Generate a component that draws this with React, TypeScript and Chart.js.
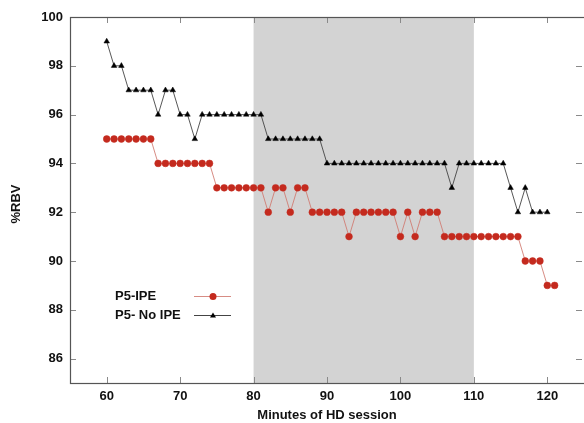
import React, { useEffect, useRef } from "react";
import { Chart, registerables } from "chart.js";

Chart.register(...registerables);

// ---- data ----
const minutesIPE = [
  60, 61, 62, 63, 64, 65, 66, 67, 68, 69, 70, 71, 72, 73, 74, 75, 76, 77, 78, 79, 80,
  81, 82, 83, 84, 85, 86, 87, 88, 89, 90, 91, 92, 93, 94, 95, 96, 97, 98, 99, 100,
  101, 102, 103, 104, 105, 106, 107, 108, 109, 110, 111, 112, 113, 114, 115, 116, 117, 118, 119, 120, 121,
];
const rbvIPE = [
  95, 95, 95, 95, 95, 95, 95, 94, 94, 94, 94, 94, 94, 94, 94, 93, 93, 93, 93, 93, 93,
  93, 92, 93, 93, 92, 93, 93, 92, 92, 92, 92, 92, 91, 92, 92, 92, 92, 92, 92, 91,
  92, 91, 92, 92, 92, 91, 91, 91, 91, 91, 91, 91, 91, 91, 91, 91, 90, 90, 90, 89, 89,
];
const minutesNoIPE = [
  60, 61, 62, 63, 64, 65, 66, 67, 68, 69, 70, 71, 72, 73, 74, 75, 76, 77, 78, 79, 80,
  81, 82, 83, 84, 85, 86, 87, 88, 89, 90, 91, 92, 93, 94, 95, 96, 97, 98, 99, 100,
  101, 102, 103, 104, 105, 106, 107, 108, 109, 110, 111, 112, 113, 114, 115, 116, 117, 118, 119, 120,
];
const rbvNoIPE = [
  99, 98, 98, 97, 97, 97, 97, 96, 97, 97, 96, 96, 95, 96, 96, 96, 96, 96, 96, 96, 96,
  96, 95, 95, 95, 95, 95, 95, 95, 95, 94, 94, 94, 94, 94, 94, 94, 94, 94, 94, 94,
  94, 94, 94, 94, 94, 94, 93, 94, 94, 94, 94, 94, 94, 94, 93, 92, 93, 92, 92, 92,
];
const xTicks = [60, 70, 80, 90, 100, 110, 120];
const yTicks = [86, 88, 90, 92, 94, 96, 98, 100];
const xRange = [55, 125];
const yRange = [85, 100];
const shadeRange = [80, 110];
const seriesNames = ["P5-IPE", "P5- No IPE"];
const xTitle = "Minutes of HD session";
const yTitle = "%RBV";

// ---- styles ----
const RED = "#c42a1e";
const RED_LINE = "rgba(208,120,110,0.85)";
const BLACK = "#000000";
const BLACK_LINE = "#444444";
const FONT = '"Liberation Sans", Arial, Helvetica, sans-serif';

const framePlugin = {
  id: "frame",
  beforeDatasetsDraw(chart: any) {
    const { ctx, chartArea } = chart;
    const xs = chart.scales.x;
    const x0 = xs.getPixelForValue(shadeRange[0]);
    const x1 = xs.getPixelForValue(shadeRange[1]);
    ctx.save();
    ctx.fillStyle = "#d3d3d3";
    ctx.fillRect(x0, chartArea.top, x1 - x0, chartArea.bottom - chartArea.top);
    ctx.restore();
  },
  afterDatasetsDraw(chart: any) {
    const { ctx, chartArea } = chart;
    const { left, right, top, bottom } = chartArea;
    const xs = chart.scales.x;
    const ys = chart.scales.y;
    const tl = 6;
    ctx.save();
    ctx.strokeStyle = "#8a8a8a";
    ctx.lineWidth = 1;
    ctx.beginPath();
    xTicks.forEach((v) => {
      const px = Math.round(xs.getPixelForValue(v)) + 0.5;
      ctx.moveTo(px, bottom);
      ctx.lineTo(px, bottom - tl);
      ctx.moveTo(px, top);
      ctx.lineTo(px, top + tl);
    });
    yTicks.forEach((v) => {
      const py = Math.round(ys.getPixelForValue(v)) + 0.5;
      ctx.moveTo(left, py);
      ctx.lineTo(left + tl, py);
      ctx.moveTo(right - 2, py);
      ctx.lineTo(right - 2 - tl, py);
    });
    ctx.stroke();
    ctx.strokeStyle = "#555555";
    ctx.lineWidth = 1.2;
    ctx.strokeRect(Math.round(left) + 0.5, Math.round(top) + 0.5, Math.round(right - left) + 2, Math.round(bottom - top));
    ctx.restore();
  },
  afterDraw(chart: any) {
    const { ctx } = chart;
    const items = [
      { name: seriesNames[0], y: 296, line: RED_LINE, color: RED, kind: "circle" },
      { name: seriesNames[1], y: 315, line: BLACK_LINE, color: BLACK, kind: "triangle" },
    ];
    ctx.save();
    ctx.font = `bold 13px ${FONT}`;
    ctx.textBaseline = "middle";
    ctx.textAlign = "left";
    items.forEach((it) => {
      ctx.fillStyle = "#111";
      ctx.fillText(it.name, 115, it.y);
      ctx.strokeStyle = it.line;
      ctx.lineWidth = 1;
      ctx.beginPath();
      ctx.moveTo(194, it.y + 0.5);
      ctx.lineTo(231, it.y + 0.5);
      ctx.stroke();
      ctx.fillStyle = it.color;
      ctx.beginPath();
      if (it.kind === "circle") {
        ctx.arc(213, it.y + 0.5, 3.5, 0, Math.PI * 2);
      } else {
        ctx.moveTo(213, it.y - 2.5);
        ctx.lineTo(216, it.y + 2.5);
        ctx.lineTo(210, it.y + 2.5);
        ctx.closePath();
      }
      ctx.fill();
    });
    ctx.translate(16, 204);
    ctx.rotate(-Math.PI / 2);
    ctx.textAlign = "center";
    ctx.fillStyle = "#111";
    ctx.fillText(yTitle, 0, 0);
    ctx.restore();
  },
};

export default function App() {
  const ref = useRef<HTMLCanvasElement | null>(null);
  useEffect(() => {
    if (!ref.current) return;
    Chart.defaults.font.family = FONT;
    const chart = new Chart(ref.current, {
      type: "line",
      data: {
        datasets: [
          {
            label: seriesNames[0],
            data: minutesIPE.map((m, i) => ({ x: m, y: rbvIPE[i] })),
            borderColor: RED_LINE,
            borderWidth: 1,
            backgroundColor: RED,
            pointBackgroundColor: RED,
            pointBorderColor: RED,
            pointStyle: "circle",
            pointRadius: 3.4,
            pointBorderWidth: 0.5,
            tension: 0,
          },
          {
            label: seriesNames[1],
            data: minutesNoIPE.map((m, i) => ({ x: m, y: rbvNoIPE[i] })),
            borderColor: BLACK_LINE,
            borderWidth: 0.9,
            backgroundColor: BLACK,
            pointBackgroundColor: BLACK,
            pointBorderColor: BLACK,
            pointStyle: "triangle",
            pointRadius: 3.2,
            pointBorderWidth: 0.5,
            tension: 0,
          },
        ],
      },
      options: {
        animation: false,
        responsive: false,
        events: [],
        layout: { autoPadding: false, padding: { top: 17, right: 0, left: 0, bottom: 0 } },
        plugins: { legend: { display: false }, tooltip: { enabled: false } },
        scales: {
          x: {
            type: "linear",
            min: xRange[0],
            max: xRange[1],
            afterBuildTicks: (s: any) => {
              s.ticks = xTicks.map((v) => ({ value: v }));
            },
            afterFit: (s: any) => {
              s.height = 40;
              s.paddingLeft = 0;
              s.paddingRight = 0;
            },
            grid: { display: false, drawTicks: false },
            border: { display: false },
            ticks: {
              padding: 6,
              color: "#111",
              font: { size: 13, weight: "bold" },
              maxRotation: 0,
              autoSkip: false,
            },
            title: {
              display: true,
              text: xTitle,
              color: "#111",
              font: { size: 13, weight: "bold" },
              padding: { top: 0, bottom: 0 },
            },
          },
          y: {
            type: "linear",
            min: yRange[0],
            max: yRange[1],
            afterBuildTicks: (s: any) => {
              s.ticks = yTicks.map((v) => ({ value: v }));
            },
            afterFit: (s: any) => {
              s.width = 70;
              s.paddingTop = 0;
              s.paddingBottom = 0;
            },
            grid: { display: false, drawTicks: false },
            border: { display: false },
            ticks: {
              padding: 7,
              color: "#111",
              font: { size: 13, weight: "bold" },
              autoSkip: false,
            },
            title: { display: false },
          },
        },
      },
      plugins: [framePlugin],
    });
    return () => chart.destroy();
  }, []);
  return (
    <div style={{ position: "absolute", left: 0, top: 0, width: 584, height: 423, background: "#fff" }}>
      <canvas ref={ref} width={584} height={423} style={{ display: "block" }} />
    </div>
  );
}
